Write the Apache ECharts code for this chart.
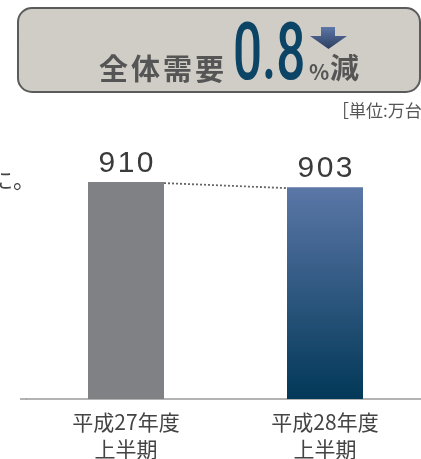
<!DOCTYPE html>
<html>
<head>
<meta charset="utf-8">
<script src="https://cdn.jsdelivr.net/npm/echarts@6/dist/echarts.min.js"></script>
<style>
  html, body { margin: 0; padding: 0; background: #fff; }
  #main { width: 421px; height: 459px; }
</style>
</head>
<body>
<div id="main"></div>
<script>
// 全体需要（万台）
const periods = ['平成27年度\n上半期', '平成28年度\n上半期'];
const demand = [910, 903];
const headline = ['全', '体', '需', '要'];
const changeText = '0.8';

const JP = '"Noto Sans CJK JP", sans-serif';
const BAR_W = 76;

const chart = echarts.init(document.getElementById('main'));

// 見出しボックス
const header = [
  {
    type: 'rect',
    shape: {x: 18, y: 8, width: 402, height: 84, r: 14},
    style: {fill: '#d0cdc7', stroke: '#5b5b5b', lineWidth: 2}
  }
];
headline.forEach((ch, i) => {
  header.push({
    type: 'text', x: 99 + 32 * i, y: 69,
    style: {text: ch, font: 'bold 29px ' + JP, fill: '#555', verticalAlign: 'middle'}
  });
});
header.push(
  {
    type: 'text', x: 233, y: 59, scaleX: 0.64,
    style: {text: changeText, font: '500 80px Roboto', fill: '#0c4466', verticalAlign: 'middle'}
  },
  {
    type: 'polygon',
    shape: {points: [[321, 27], [335, 27], [335, 36], [347, 36], [328.5, 49], [310, 36], [321, 36]]},
    style: {fill: new echarts.graphic.LinearGradient(0, 0, 0, 1, [
      {offset: 0, color: '#5d77a8'}, {offset: 1, color: '#2c3e5f'}
    ])}
  },
  {
    type: 'text', x: 309, y: 72,
    style: {text: '%', font: 'bold 21px ' + JP, fill: '#555', verticalAlign: 'middle'}
  },
  {
    type: 'text', x: 330, y: 68,
    style: {text: '減', font: 'bold 29px ' + JP, fill: '#555', verticalAlign: 'middle'}
  },
  {
    type: 'text', x: 332, y: 111,
    style: {text: '［単位:万台］', font: '17px ' + JP, fill: '#555', verticalAlign: 'middle'}
  },
  {
    type: 'text', x: 35, y: 180,
    style: {text: 'に。', font: '22px ' + JP, fill: '#444', align: 'right', verticalAlign: 'middle'}
  },
  // 軸線の左端の延長
  {
    type: 'line',
    shape: {x1: 20, y1: 399, x2: 27, y2: 399},
    style: {stroke: '#9a9a9a', lineWidth: 1.5}
  }
);

chart.setOption({
  animation: false,
  grid: {left: 26.5, width: 398, top: 117, bottom: 60, outerBoundsMode: 'none', containLabel: false},
  xAxis: {
    type: 'category',
    data: periods,
    axisTick: {show: false},
    axisLine: {onZero: false, lineStyle: {color: '#9a9a9a', width: 1.5}},
    axisLabel: {
      color: '#444', fontSize: 21, lineHeight: 27, margin: 10,
      fontFamily: JP
    }
  },
  yAxis: {type: 'value', min: 610, max: 1000, show: false},
  series: [
    {
      type: 'bar',
      barWidth: BAR_W,
      data: demand.map((v, i) => ({
        value: v,
        itemStyle: {
          color: i === 0 ? '#808185' : new echarts.graphic.LinearGradient(0, 0, 0, 1, [
            {offset: 0, color: '#5b77a7'}, {offset: 1, color: '#023858'}
          ])
        }
      })),
      label: {
        show: true, position: 'top', distance: 3,
        color: '#3a3a3a', fontSize: 30, fontFamily: 'Liberation Sans',
        // 数字の字間を少し広げる
        formatter: p => String(p.value).split('').join('\u200A')
      }
    },
    {
      // 棒の上端を結ぶ点線
      type: 'custom',
      silent: true,
      z: 3,
      data: [[0, demand[0]]],
      renderItem: (params, api) => {
        const p1 = api.coord([0, demand[0]]);
        const p2 = api.coord([1, demand[1]]);
        return {
          type: 'line',
          shape: {x1: p1[0] + BAR_W / 2, y1: p1[1] + 1, x2: p2[0] - BAR_W / 2, y2: p2[1] + 1},
          style: {stroke: '#666', lineWidth: 1.8, lineDash: [2, 2]}
        };
      }
    }
  ],
  graphic: header
});
</script>
</body>
</html>
